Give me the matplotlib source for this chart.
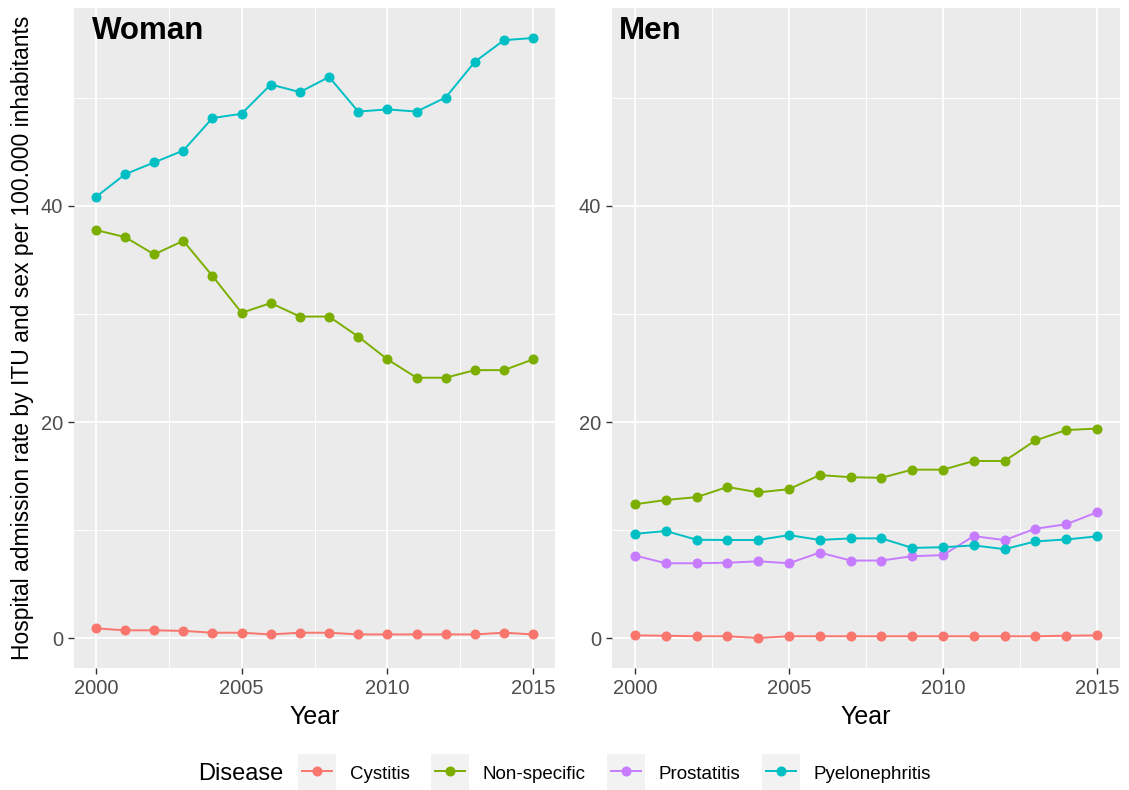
import matplotlib
matplotlib.use("Agg")
import matplotlib.pyplot as plt
from matplotlib.legend_handler import HandlerLine2D
from matplotlib.patches import Rectangle
from matplotlib.lines import Line2D

plt.rcParams['font.family'] = ['Liberation Sans', 'DejaVu Sans']

years = list(range(2000, 2016))
diseases = ["Cystitis", "Non-specific", "Prostatitis", "Pyelonephritis"]
colors = {"Cystitis": "#F8766D", "Non-specific": "#7CAE00",
          "Prostatitis": "#C77CFF", "Pyelonephritis": "#00BFC4"}

woman_cystitis = [0.93, 0.75, 0.75, 0.70, 0.53, 0.53, 0.37, 0.53, 0.53, 0.37, 0.37, 0.37, 0.37, 0.37, 0.53, 0.37]
woman_nonspecific = [37.75, 37.1, 35.5, 36.75, 33.5, 30.1, 31.0, 29.75, 29.75, 27.9, 25.8, 24.1, 24.1, 24.8, 24.8, 25.8]
woman_pyelo = [40.8, 42.9, 44.0, 45.1, 48.1, 48.5, 51.2, 50.5, 51.9, 48.7, 48.9, 48.7, 50.0, 53.3, 55.3, 55.5]

men_cystitis = [0.28, 0.25, 0.2, 0.2, 0.04, 0.2, 0.2, 0.2, 0.2, 0.2, 0.2, 0.2, 0.2, 0.2, 0.25, 0.28]
men_nonspecific = [12.4, 12.8, 13.06, 14.0, 13.5, 13.8, 15.1, 14.9, 14.85, 15.6, 15.6, 16.4, 16.4, 18.3, 19.26, 19.4]
men_prostatitis = [7.66, 6.95, 6.95, 7.0, 7.13, 6.95, 7.94, 7.2, 7.2, 7.6, 7.7, 9.46, 9.09, 10.14, 10.55, 11.66]
men_pyelo = [9.67, 9.93, 9.12, 9.1, 9.1, 9.55, 9.1, 9.25, 9.25, 8.37, 8.43, 8.6, 8.25, 8.97, 9.15, 9.43]

woman = {"Cystitis": woman_cystitis, "Non-specific": woman_nonspecific, "Pyelonephritis": woman_pyelo}
men = {"Cystitis": men_cystitis, "Non-specific": men_nonspecific,
       "Prostatitis": men_prostatitis, "Pyelonephritis": men_pyelo}

all_vals = [v for d in (woman, men) for s in d.values() for v in s]
lo, hi = min(all_vals), max(all_vals)
ypad = 0.05 * (hi - lo)
xpad = 0.05 * (years[-1] - years[0])

W, H = 1129, 790
fig = plt.figure(figsize=(W / 100, H / 100), dpi=100)
ax1 = fig.add_axes([74 / W, 1 - 668 / H, 481 / W, 660 / H])
ax2 = fig.add_axes([612 / W, 1 - 668 / H, 508 / W, 660 / H])


def style(ax):
    ax.set_facecolor('#EBEBEB')
    for s in ax.spines.values():
        s.set_visible(False)
    ax.set_xlim(years[0] - xpad, years[-1] + xpad)
    ax.set_ylim(lo - ypad, hi + ypad)
    ax.set_xticks([2000, 2005, 2010, 2015])
    ax.set_xticks([2002.5, 2007.5, 2012.5], minor=True)
    ax.set_yticks([0, 20, 40])
    ax.set_yticks([10, 30, 50], minor=True)
    ax.grid(which='major', color='white', lw=1.3)
    ax.grid(which='minor', color='white', lw=0.65)
    ax.set_axisbelow(True)
    ax.tick_params(which='major', length=4, width=1.0, color='#333333',
                   labelsize=14.5, labelcolor='#4D4D4D', pad=4)
    ax.tick_params(which='minor', length=0)
    ax.set_xlabel('Year', fontsize=18, labelpad=5)


def draw(ax, data):
    for name in diseases:
        if name in data:
            ax.plot(years, data[name], color=colors[name], lw=1.4, zorder=3)
    for name in diseases:
        if name in data:
            ax.plot(years, data[name], color=colors[name], lw=0, marker='o',
                    ms=6.2, zorder=4)


style(ax1)
style(ax2)
draw(ax1, woman)
draw(ax2, men)

ax1.text(0.037, 0.965, 'Woman', transform=ax1.transAxes, fontsize=22.5,
         fontweight='bold', ha='left', va='center')
ax2.text(0.013, 0.965, 'Men', transform=ax2.transAxes, fontsize=22.5,
         fontweight='bold', ha='left', va='center')

ax1.set_ylabel('Hospital admission rate by ITU and sex per 100.000 inhabitants',
               fontsize=16.5, labelpad=5)


class KeyHandler(HandlerLine2D):
    def create_artists(self, legend, orig_handle, xdescent, ydescent,
                       width, height, fontsize, trans):
        arts = super().create_artists(legend, orig_handle, xdescent, ydescent,
                                      width, height, fontsize, trans)
        pad = 3.0
        bh = 27.0
        rect = Rectangle((-xdescent - pad, -ydescent + height / 2 - bh / 2),
                         width + 2 * pad, bh, facecolor='#F2F2F2',
                         edgecolor='none', transform=trans)
        return [rect] + list(arts)


handles = [Line2D([], [], color=colors[n], lw=1.4, marker='o', ms=6.2) for n in diseases]
fig.text(198 / W, 1 - 774 / H, 'Disease', fontsize=17, ha='left', va='center')
fig.legend(handles, diseases, loc='center left',
           bbox_to_anchor=(302 / W, 1 - 773 / H), ncol=4, frameon=False,
           fontsize=13.5, handlelength=1.6, handleheight=1.4, handletextpad=0.95,
           columnspacing=1.35, borderpad=0, borderaxespad=0,
           handler_map={Line2D: KeyHandler()})

fig.savefig('out.png', dpi=100)
